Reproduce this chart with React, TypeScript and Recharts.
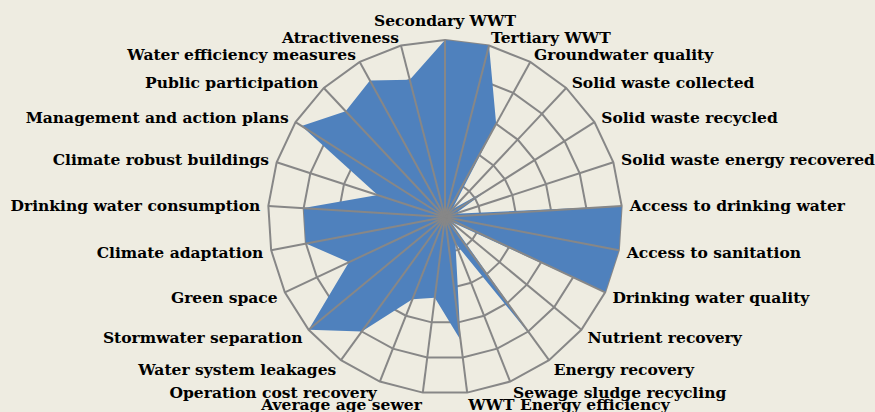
import React from 'react';
import { RadarChart, Radar, PolarGrid, PolarAngleAxis, PolarRadiusAxis } from 'recharts';

// indicator names, clockwise from the top
const categories = [
  'Secondary WWT',
  'Tertiary WWT',
  'Groundwater quality',
  'Solid waste collected',
  'Solid waste recycled',
  'Solid waste energy recovered',
  'Access to drinking water',
  'Access to sanitation',
  'Drinking water quality',
  'Nutrient recovery',
  'Energy recovery',
  'Sewage sludge recycling',
  'WWT Energy efficiency',
  'Average age sewer',
  'Operation cost recovery',
  'Water system leakages',
  'Stormwater separation',
  'Green space',
  'Climate adaptation',
  'Drinking water consumption',
  'Climate robust buildings',
  'Management and action plans',
  'Public participation',
  'Water efficiency measures',
  'Atractiveness',
];

// scores on a 0-5 scale
const scores = [
  5, 5, 3, 0.3, 1.5, 0.3, 5, 5, 5, 0.2, 4.3, 0.8, 3.5, 2.3, 2.5, 4, 5, 3, 4, 4, 2, 4.8, 4.1, 4.4, 4,
];

const radiusTicks = [0, 1, 2, 3, 4, 5];

const data = categories.map((name, i) => ({ name, value: scores[i] }));

const W = 875;
const H = 412;
const CX = 445;
const CY = 217;
const R = 177;
const GRID = '#878787';

function AngleTick(props: any) {
  const { x, y, textAnchor, payload } = props;
  const s = Math.sin((payload.coordinate * Math.PI) / 180);
  let dy = s < 0 ? -s * 4 : 0;
  if (textAnchor === 'middle') dy = s > 0 ? -12 : 10;
  return (
    <text
      x={x}
      y={y + dy}
      textAnchor={textAnchor}
      dominantBaseline="central"
      fontFamily="DejaVu Serif"
      fontWeight="bold"
      fontSize={15.5}
      fill="#000"
    >
      {payload.value}
    </text>
  );
}

export default function App() {
  return (
    <div style={{ position: 'absolute', left: 0, top: 0, width: W, height: H, background: '#EEECE1' }}>
      <div style={{ position: 'absolute', left: 0, top: 0 }}>
        <RadarChart width={W} height={H} cx={CX} cy={CY} outerRadius={R} data={data}>
          <PolarGrid gridType="polygon" radialLines={false} stroke={GRID} strokeWidth={2} />
          <PolarRadiusAxis domain={[0, 5]} ticks={radiusTicks} tick={false} axisLine={false} />
          <PolarAngleAxis dataKey="name" tick={<AngleTick />} tickLine={false} axisLine={false} />
          <Radar dataKey="value" stroke="none" fill="#4F81BD" fillOpacity={1} isAnimationActive={false} />
        </RadarChart>
      </div>
      {/* spokes drawn over the filled area, as in the original */}
      <div style={{ position: 'absolute', left: 0, top: 0, pointerEvents: 'none' }}>
        <RadarChart width={W} height={H} cx={CX} cy={CY} outerRadius={R} data={data}>
          <PolarGrid gridType="polygon" polarRadius={[]} stroke={GRID} strokeWidth={2} />
          <PolarRadiusAxis domain={[0, 5]} ticks={radiusTicks} tick={false} axisLine={false} />
          <PolarAngleAxis dataKey="name" tick={false} tickLine={false} axisLine={false} />
          <Radar dataKey="value" stroke="none" fill="none" fillOpacity={0} isAnimationActive={false} />
        </RadarChart>
      </div>
    </div>
  );
}
